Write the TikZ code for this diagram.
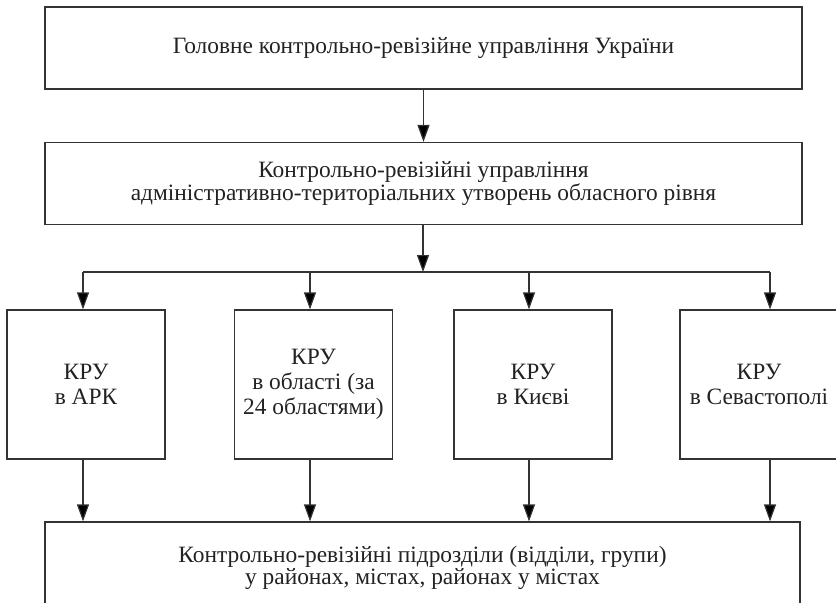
\documentclass[tikz,border=0pt]{standalone}
\usepackage{fontspec}
\setmainfont{Liberation Serif}
\usetikzlibrary{arrows.meta}
\usetikzlibrary{positioning}

\definecolor{linegray}{HTML}{333333}
\definecolor{textgray}{HTML}{222222}

\tikzset{
  orgbox/.style={draw=linegray, line width=0.6pt, align=center, text=textgray,
    font=\fontsize{11.7}{11.2}\selectfont, inner sep=0pt},
  widebox/.style={orgbox, minimum width=378.5pt, minimum height=41pt},
  krubox/.style={orgbox, minimum width=79pt, minimum height=74.5pt,
    font=\fontsize{11.7}{12.6}\selectfont},
  link/.style={draw=linegray, line width=0.6pt, -{Triangle[length=8.5pt,width=6pt,fill=black]}}
}

\begin{document}
\begin{tikzpicture}[x=0.5pt,y=-0.5pt]

\useasboundingbox (0,0) rectangle (836,602);

%\draw[gray,very thin, step=50] (0,0) grid (836,602);

\node[widebox] (gkru) at (423.5,48) {Головне контрольно-ревізійне управління України};
\node[widebox] (obl) at (423.5,183.5) {Контрольно-ревізійні управління\\адміністративно-територіальних утворень обласного рівня};

\node[krubox] (ark) at (86,384.5) {КРУ\\в АРК};
\node[krubox] (oblasti) at (313.5,384.5) {КРУ\\в області (за\\24 областями)};
\node[krubox] (kyiv) at (533,384.5) {КРУ\\в Києві};
\node[krubox] (sev) at (759,384.5) {КРУ\\в Севастополі};

\node[orgbox, minimum width=377.5pt, minimum height=46pt] (pidr) at (422.5,568) {Контрольно-ревізійні підрозділи (відділи, групи)\\у районах, містах, районах у містах};

% branch line
\coordinate (jc) at (423,272);
\coordinate (j1) at (83,272);
\coordinate (j2) at (310,272);
\coordinate (j3) at (529,272);
\coordinate (j4) at (770,272);

\draw[link] (gkru) -- (obl);
\draw[link] (obl.south -| jc) -- (jc);
\draw[draw=linegray, line width=0.6pt] (j1) -- (j4);

\draw[link] (j1) -- (j1 |- ark.north);
\draw[link] (j2) -- (j2 |- oblasti.north);
\draw[link] (j3) -- (j3 |- kyiv.north);
\draw[link] (j4) -- (j4 |- sev.north);

\draw[link] (ark.south -| j1) -- (j1 |- pidr.north);
\draw[link] (oblasti.south -| j2) -- (j2 |- pidr.north);
\draw[link] (kyiv.south -| j3) -- (j3 |- pidr.north);
\draw[link] (sev.south -| j4) -- (j4 |- pidr.north);

\end{tikzpicture}
\end{document}
